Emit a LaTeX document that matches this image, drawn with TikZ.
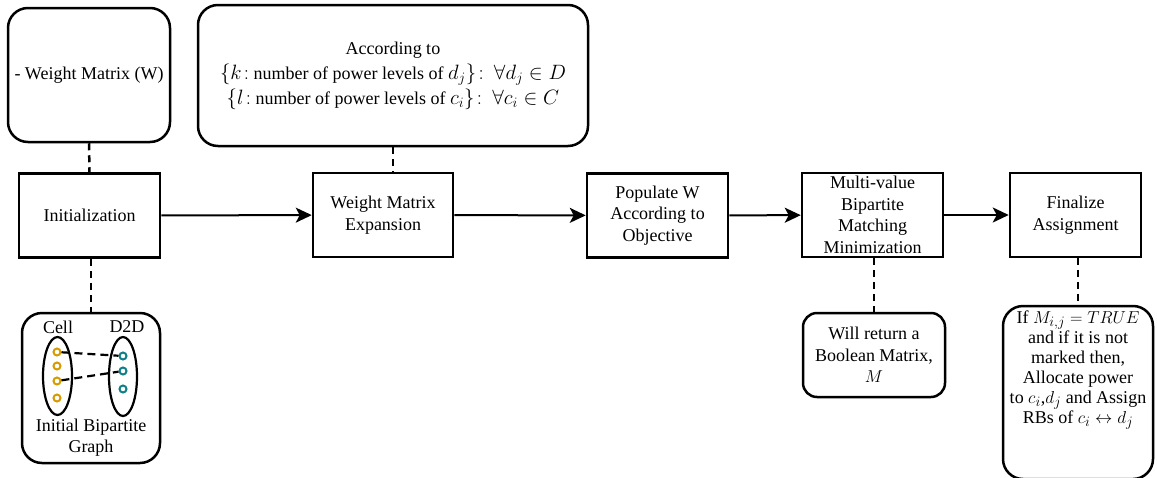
\documentclass[tikz,border=0pt]{standalone}
\usepackage{fontspec}
\setmainfont{Liberation Serif}
\newfontfamily\labelfont{Liberation Serif}
\usetikzlibrary{arrows.meta}
\DeclareMathSizes{18}{19}{13.5}{10}
\DeclareMathSizes{18.01}{21}{15}{11}
\definecolor{cellorange}{RGB}{215,155,0}
\definecolor{dtealc}{RGB}{16,128,136}
\begin{document}
\begin{tikzpicture}[x=1pt,y=-1pt,
  txt/.style={align=center,font=\labelfont\fontsize{18}{21.5}\selectfont,inner sep=0pt},
  stage/.style={txt,draw,line width=2.5pt,minimum width=#1,minimum height=84pt},
  note/.style={txt,draw,line width=2.5pt,rounded corners=20pt},
  link/.style={line width=2.5pt,dash pattern=on 7pt off 5pt},
  flow/.style={line width=2pt,-{Stealth[length=16pt,width=15pt,inset=4pt]}},
  pair/.style={line width=2.2pt,dash pattern=on 8pt off 5pt},
  cdot/.style={circle,draw=cellorange,fill=white,line width=2pt,minimum size=7pt,inner sep=0pt},
  ddot/.style={circle,draw=dtealc,fill=white,line width=2pt,minimum size=7pt,inner sep=0pt}]
\useasboundingbox (0,0) rectangle (1157,477);

% main pipeline
\node[stage=141pt] (init) at (89.5,215.5) {Initialization};
\node[stage=140pt] (wme)  at (383,215) {Weight Matrix\\Expansion};
\node[stage=141pt] (pop)  at (657.5,215.5) {Populate W\\According to\\Objective};
\node[stage=141pt] (mvb)  at (872.5,215) {Multi-value\\Bipartite\\Matching\\Minimization};
\node[stage=131pt] (fin)  at (1075.5,215) {Finalize\\Assignment};

\draw[flow] (init) -- (wme);
\draw[flow] (wme) -- (pop);
\draw[flow] (pop) -- (mvb);
\draw[flow] (mvb) -- (fin);

% annotations
\node[note,minimum width=162pt,minimum height=134pt] (wmat) at (89,75) {- Weight Matrix (W)};
\node[note,minimum width=390pt,minimum height=141pt,font=\labelfont\fontsize{18.01}{25}\selectfont] (acc) at (393,75.5)
  {According to\\
   $\{k\!:$ number of power levels of $d_j\}\!:\ \forall d_j \in D$\\
   $\{l\!:$ number of power levels of $c_i\}\!:\ \forall c_i \in C$};
\node[note,minimum width=138pt,minimum height=150pt] (bip) at (91,388) {};
\node[note,rounded corners=14pt,minimum width=142pt,minimum height=84pt] (ret) at (874,355)
  {Will return a\\Boolean Matrix,\\$M$};
\node[note,minimum width=150pt,minimum height=173pt] (fbox) at (1078,392.5) {};
\node[txt,font=\labelfont\fontsize{18}{20}\selectfont] (ftext) at (1078,370)
  {If $M_{i,j} = TRUE$\\and if it is not\\marked then,\\Allocate power\\
   to $c_i$,$d_j$ and Assign\\RBs of $c_i \leftrightarrow d_j$};

\draw[link] (wmat.south) -- (init.north);
\draw[link] (acc.south) -- (acc.south |- wme.north);
\draw[link] (init.south -| bip.north) -- (bip.north);
\draw[link] (ret.north |- mvb.south) -- (ret.north);
\draw[link] (fbox.north |- fin.south) -- (fbox.north);

% bipartite graph sketch
\node[txt] (lcell) at (58,327) {Cell};
\node[txt] (ld2d) at (127,327) {D2D};
\draw[line width=2.2pt] (57.5,376) ellipse (14.5pt and 39pt);
\draw[line width=2.2pt] (123,376.5) ellipse (14pt and 39.5pt);
\node[cdot] (c1) at (57,352) {};
\node[cdot] (c2) at (57,366) {};
\node[cdot] (c3) at (57,381) {};
\node[cdot] (c4) at (57,398) {};
\node[ddot] (d1) at (123,356) {};
\node[ddot] (d2) at (123,371) {};
\node[ddot] (d3) at (123,389) {};
\draw[pair] (c1) -- (d1);
\draw[pair] (c3) -- (d2);
\node[txt] (lbip) at (91,437.5) {Initial Bipartite\\Graph};
\end{tikzpicture}
\end{document}
